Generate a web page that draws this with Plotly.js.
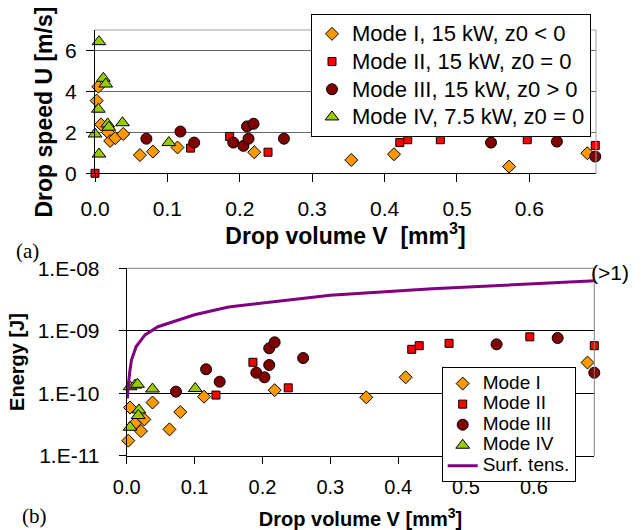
<!DOCTYPE html>
<html>
<head>
<meta charset="utf-8">
<script src="https://cdn.plot.ly/plotly-3.0.1.min.js"></script>
<style>
  html, body { margin: 0; padding: 0; background: #fff; }
  #chart { width: 641px; height: 530px; }
</style>
</head>
<body>
<div id="chart"></div>
<script>
// ---------- (a) drop speed U [m/s] versus drop volume V [mm3] ----------
const speedVolModeI   = [0.0046, 0.0023, 0.0083, 0.018, 0.021, 0.028, 0.039, 0.062, 0.080, 0.114, 0.220, 0.354, 0.413, 0.572, 0.680];
const speedModeI      = [4.23, 3.55, 2.39, 2.00, 1.58, 1.72, 1.92, 0.89, 1.06, 1.26, 1.03, 0.65, 0.93, 0.33, 0.98];

const speedVolModeII  = [0.0, 0.132, 0.186, 0.239, 0.421, 0.432, 0.477, 0.597, 0.691];
const speedModeII     = [0.0, 1.23, 1.80, 1.03, 1.50, 1.64, 1.64, 1.64, 1.36];

const speedVolModeIII = [0.071, 0.118, 0.137, 0.191, 0.205, 0.212, 0.210, 0.219, 0.261, 0.547, 0.638, 0.691];
const speedModeIII    = [1.69, 2.04, 1.50, 1.50, 1.34, 1.69, 2.29, 2.42, 1.69, 1.50, 1.55, 0.82];

const speedVolModeIV  = [0.0055, 0.0115, 0.0148, 0.0046, 0.0175, 0.019, 0.038, 0.0, 0.0055, 0.102];
const speedModeIV     = [6.43, 4.64, 4.36, 3.13, 2.41, 2.25, 2.47, 1.92, 0.94, 1.50];

// ---------- (b) energy [J] versus drop volume V [mm3] ----------
const energyVolModeI   = [0.0049, 0.0024, 0.0122, 0.021, 0.026, 0.038, 0.063, 0.079, 0.114, 0.218, 0.353, 0.411, 0.679];
const energyModeI      = [5.9e-11, 1.74e-11, 3.3e-11, 2.48e-11, 3.8e-11, 7.1e-11, 2.64e-11, 5.0e-11, 8.8e-11, 1.12e-10, 8.6e-11, 1.8e-10, 3.1e-10];

const energyVolModeII  = [0.1315, 0.186, 0.238, 0.420, 0.431, 0.475, 0.594, 0.689];
const energyModeII     = [9.35e-11, 3.13e-10, 1.22e-10, 5.05e-10, 5.77e-10, 6.3e-10, 8.0e-10, 5.77e-10];

const energyVolModeIII = [0.0726, 0.117, 0.137, 0.191, 0.203, 0.210, 0.210, 0.218, 0.260, 0.545, 0.635, 0.689];
const energyModeIII    = [1.06e-10, 2.42e-10, 1.53e-10, 2.13e-10, 1.8e-10, 2.83e-10, 5.24e-10, 6.53e-10, 3.66e-10, 6.07e-10, 7.66e-10, 2.13e-10];

const energyVolModeIV  = [0.0049, 0.0122, 0.016, 0.038, 0.101, 0.018, 0.017, 0.0049];
const energyModeIV     = [1.27e-10, 1.35e-10, 1.39e-10, 1.17e-10, 1.19e-10, 5.4e-11, 4.4e-11, 2.85e-11];

// surface tension energy of the drop
const surfVol    = [0.001, 0.002, 0.0045, 0.007, 0.014, 0.027, 0.046, 0.100, 0.150, 0.300, 0.450, 0.650, 0.700];
const surfEnergy = [8.3e-11, 1.27e-10, 2.2e-10, 3.4e-10, 5.6e-10, 8.6e-10, 1.16e-9, 1.8e-9, 2.4e-9, 3.7e-9, 4.7e-9, 6.0e-9, 6.4e-9];

const speedNames  = ['Mode I, 15 kW, z0 &lt; 0', 'Mode II, 15 kW, z0 = 0', 'Mode III, 15 kW, z0 &gt; 0', 'Mode IV, 7.5 kW, z0 = 0'];
const energyNames = ['Mode I', 'Mode II', 'Mode III', 'Mode IV', 'Surf. tens.'];

const xTicks = [0, 0.1, 0.2, 0.3, 0.4, 0.5, 0.6];
const speedTicks = [0, 2, 4, 6];
const energyTicks = [1e-11, 1e-10, 1e-9, 1e-8];
const energyTickText = ['1.E-11', '1.E-10', '1.E-09', '1.E-08'];

const SANS = 'Arial, "Liberation Sans", sans-serif';
const SERIF = '"Times New Roman", "Liberation Serif", serif';

const markerStyles = [
  { symbol: 'diamond',     size: 10, color: '#FF9900' },
  { symbol: 'square',      size: 8,  color: '#FF0000' },
  { symbol: 'circle',      size: 11, color: '#800000' },
  { symbol: 'triangle-up', size: 12, color: '#99CC00' }
];

// legend rows are packed tighter than the text size would give by default
function big(text, px) {
  return '<span style="font-size:' + px + 'px">' + text + '</span>';
}

function pointTrace(xs, ys, i, name, xa, ya, legendId, px) {
  const m = markerStyles[i];
  return {
    type: 'scatter', mode: 'markers', x: xs, y: ys,
    xaxis: xa, yaxis: ya, legend: legendId,
    name: big(name, px), cliponaxis: false, hoverinfo: 'x+y',
    marker: { symbol: m.symbol, size: m.size, color: m.color, line: { color: '#000', width: 1 } }
  };
}

const speedX = [speedVolModeI, speedVolModeII, speedVolModeIII, speedVolModeIV];
const speedY = [speedModeI, speedModeII, speedModeIII, speedModeIV];
const energyX = [energyVolModeI, energyVolModeII, energyVolModeIII, energyVolModeIV];
const energyY = [energyModeI, energyModeII, energyModeIII, energyModeIV];

const traces = [];
for (let i = 0; i < 4; i++) {
  traces.push(pointTrace(speedX[i], speedY[i], i, speedNames[i], 'x', 'y', 'legend', 22));
}
for (let i = 0; i < 4; i++) {
  traces.push(pointTrace(energyX[i], energyY[i], i, energyNames[i], 'x2', 'y2', 'legend2', 19));
}
traces.push({
  type: 'scatter', mode: 'lines', x: surfVol, y: surfEnergy,
  xaxis: 'x2', yaxis: 'y2', legend: 'legend2', name: big(energyNames[4], 19),
  line: { color: '#800080', width: 3 }, hoverinfo: 'x+y'
});

const W = 641, H = 530;
const px2x = v => v / W;
const px2y = v => 1 - v / H;

const titleFont = size => ({ family: SANS, size: size, color: '#000', weight: 'bold' });

const layout = {
  width: W, height: H,
  margin: { l: 0, r: 0, t: 0, b: 0 },
  paper_bgcolor: '#fff', plot_bgcolor: '#fff',
  font: { family: SANS, color: '#000' },
  xaxis: {
    domain: [px2x(95), px2x(596)], range: [0, 0.692], anchor: 'y',
    tickvals: xTicks, tickformat: '.1f',
    ticks: 'outside', ticklen: 8, tickcolor: '#000', ticklabelstandoff: 8,
    showline: true, linecolor: '#000', linewidth: 1,
    showgrid: false, zeroline: false,
    tickfont: { family: SANS, size: 21, color: '#000' },
    title: { text: 'Drop volume V&nbsp; [mm<sup>3</sup>]', font: titleFont(23), standoff: 4 }
  },
  yaxis: {
    domain: [px2y(173.3), px2y(30)], range: [0, 7], anchor: 'x',
    tickvals: speedTicks,
    ticks: 'outside', ticklen: 8, tickcolor: '#000', ticklabelstandoff: 5,
    showline: true, linecolor: '#000', linewidth: 1,
    showgrid: true, gridcolor: '#666666', gridwidth: 1, zeroline: false,
    tickfont: { family: SANS, size: 21, color: '#000' }
  },
  xaxis2: {
    domain: [px2x(126.7), px2x(594.3)], range: [0, 0.689], anchor: 'y2',
    tickvals: xTicks, tickformat: '.1f',
    ticks: 'outside', ticklen: 7, tickcolor: '#000', ticklabelstandoff: 6,
    showline: true, linecolor: '#000', linewidth: 1,
    showgrid: false, zeroline: false,
    tickfont: { family: SANS, size: 20, color: '#000' },
    title: { text: 'Drop volume V [mm<sup>3</sup>]', font: titleFont(20), standoff: 16 }
  },
  yaxis2: {
    domain: [px2y(455.7), px2y(268.3)], type: 'log', range: [-11, -8], anchor: 'x2',
    tickvals: energyTicks, ticktext: energyTickText,
    ticks: 'outside', ticklen: 7, tickcolor: '#000', ticklabelstandoff: 15,
    showline: true, linecolor: '#000', linewidth: 1,
    showgrid: true, gridcolor: '#000', gridwidth: 1, zeroline: false,
    tickfont: { family: SANS, size: 21, color: '#000' },
    title: { text: 'Energy [J]', font: titleFont(20), standoff: 7 }
  },
  legend: {
    x: px2x(311), y: px2y(14), xanchor: 'left', yanchor: 'top',
    bgcolor: '#fff', bordercolor: '#000', borderwidth: 1,
    font: { family: SANS, size: 19, color: '#000' }
  },
  legend2: {
    x: px2x(441.7), y: px2y(367.3), xanchor: 'left', yanchor: 'top',
    bgcolor: '#fff', bordercolor: '#000', borderwidth: 1,
    traceorder: 'normal',
    font: { family: SANS, size: 13.5, color: '#000' }
  },
  shapes: [
    // plot-area frame, top and right edges
    { type: 'line', xref: 'x domain', yref: 'y domain', x0: 0, x1: 1, y0: 1, y1: 1, line: { color: '#a0a0a0', width: 1 } },
    { type: 'line', xref: 'x domain', yref: 'y domain', x0: 1, x1: 1, y0: 0, y1: 1, line: { color: '#a0a0a0', width: 1 } },
    { type: 'line', xref: 'x2 domain', yref: 'y2 domain', x0: 0, x1: 1, y0: 1, y1: 1, line: { color: '#808080', width: 1 } },
    { type: 'line', xref: 'x2 domain', yref: 'y2 domain', x0: 1, x1: 1, y0: 0, y1: 1, line: { color: '#808080', width: 1 } }
  ],
  annotations: [
    // vertical title of the speed axis, sitting a little below the axis centre
    { text: 'Drop speed U [m/s]', xref: 'paper', yref: 'paper', x: px2x(43), y: px2y(112.5),
      xanchor: 'center', yanchor: 'middle', textangle: -90, showarrow: false,
      font: titleFont(23) },
    { text: '(a)', xref: 'paper', yref: 'paper', x: px2x(27), y: px2y(251),
      xanchor: 'center', yanchor: 'middle', showarrow: false,
      font: { family: SERIF, size: 21, color: '#000' } },
    { text: '(b)', xref: 'paper', yref: 'paper', x: px2x(34), y: px2y(516),
      xanchor: 'center', yanchor: 'middle', showarrow: false,
      font: { family: SERIF, size: 21, color: '#000' } },
    { text: '(&gt;1)', xref: 'paper', yref: 'paper', x: px2x(610), y: px2y(272),
      xanchor: 'center', yanchor: 'middle', showarrow: false,
      font: { family: SANS, size: 21, color: '#000' } }
  ]
};

Plotly.newPlot('chart', traces, layout, { displayModeBar: false, staticPlot: true });
</script>
</body>
</html>
